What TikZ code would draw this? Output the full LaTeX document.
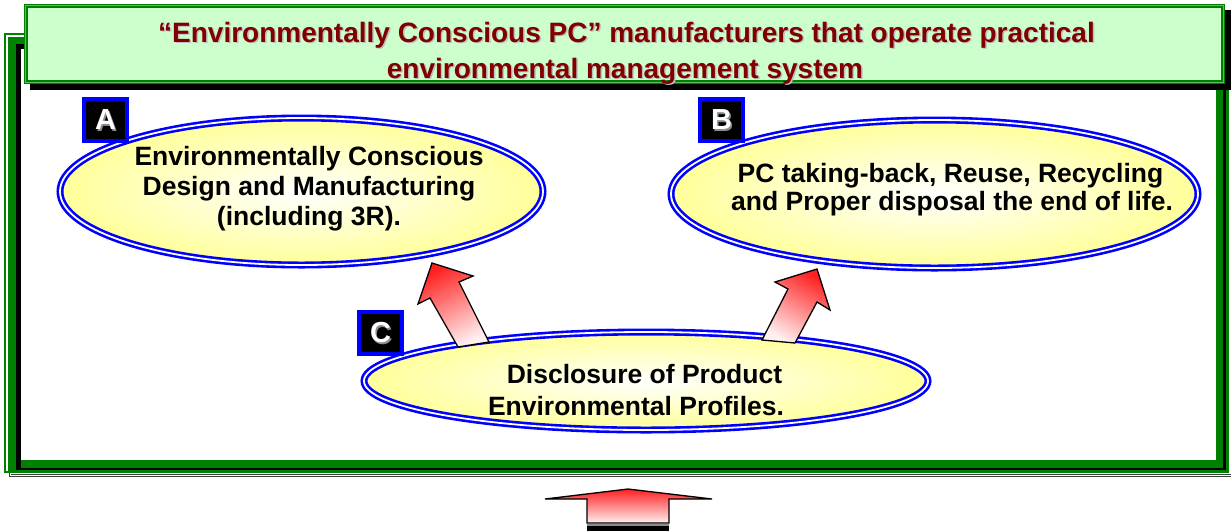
\documentclass[tikz,border=0pt]{standalone}
\usepackage{fontspec}
\setmainfont{Liberation Sans}
\usetikzlibrary{shapes.geometric}
\definecolor{frameg}{HTML}{008000}
\definecolor{framegl}{HTML}{5DBB5D}
\definecolor{titlefill}{HTML}{CCFFCC}
\definecolor{titletext}{HTML}{800000}
\definecolor{ellblue}{HTML}{0000FF}
\definecolor{ellyellow}{HTML}{FFFF99}
\definecolor{arrred}{HTML}{FF2020}
\definecolor{arrpale}{HTML}{FFF0F0}
\begin{document}
\begin{tikzpicture}[x=1pt,y=-1pt,
  ell/.style={ellipse, draw=ellblue, double=white, line width=2.6pt, double distance=1.8pt,
    inner sep=0pt, inner color=white, outer color=ellyellow},
  tag/.style={draw=ellblue, line width=4pt, fill=black, minimum width=43pt,
    minimum height=42pt, inner sep=0pt},
  tagtext/.style={font=\fontsize{29}{30}\selectfont\bfseries, inner sep=0pt},
  body/.style={anchor=base, font=\fontsize{26.5}{30}\selectfont\bfseries, inner sep=0pt},
  ttl/.style={anchor=base, font=\fontsize{28}{32}\selectfont\bfseries, inner sep=0pt},
  titlebox/.style={draw=frameg, double=framegl, line width=1.2pt, double distance=1.2pt,
    fill=titlefill, inner sep=0pt},
  blockarrow/.style={draw=black, line width=1.3pt, line join=miter, top color=arrred, bottom color=arrpale}]
\useasboundingbox (0,0) rectangle (1231,531);
% shadow line below the frame
\draw[black!75, double=white, line width=0.9pt, double distance=1pt] (10,471) -- (10,475.5) -- (1231,475.5);
% frame
\draw[frameg, line width=1.5pt] (5,34) rectangle (1228,472);
\fill[white] (6,35) rectangle (1227,471);
\fill[frameg] (8,37) rectangle (1229,473);
\fill[black] (16,44) rectangle (1226,470);
\fill[frameg] (21,49) rectangle (1223,468);
\fill[white] (21,49) rectangle (1216,460);
% title
\fill[black] (30,10) rectangle (1231,90);
\node[titlebox, minimum width=1197.4pt, minimum height=76.4pt] (title) at (624.5,44) {};
\node[ttl, text=black!25] (t1s) at (628,43.5) {“Environmentally Conscious PC” manufacturers that operate practical};
\node[ttl, text=black!25] (t2s) at (626.5,79.5) {environmental management system};
\node[ttl, text=titletext] (t1) at (626.5,42) {“Environmentally Conscious PC” manufacturers that operate practical};
\node[ttl, text=titletext] (t2) at (625,78) {environmental management system};
% ellipses
\node[ell, minimum width=483pt, minimum height=147pt] (ea) at (301.5,191.5) {};
\node[ell, minimum width=527pt, minimum height=148pt] (eb) at (934.5,194) {};
\node[ell, minimum width=564pt, minimum height=98pt] (ec) at (646,381) {};
% texts
\node[body] (a1) at (309,165) {Environmentally Conscious};
\node[body] (a2) at (309,195) {Design and Manufacturing};
\node[body] (a3) at (309,225) {(including 3R).};
\node[body] (b1) at (950.5,182) {PC taking-back, Reuse, Recycling};
\node[body] (b2) at (952,210) {and Proper disposal the end of life.};
\node[body] (c1) at (644.5,383) {Disclosure of Product};
\node[body] (c2) at (636,415) {Environmental Profiles.};
% arrows
\draw[blockarrow, shading angle=26.6] (458,347) -- (430,298) -- (418,304) -- (432,263) -- (473,276) -- (459,282) -- (489,342) -- cycle;
\draw[blockarrow, shading angle=-28.4] (762,340) -- (788,289) -- (775,282) -- (817,269) -- (830,310) -- (817,302) -- (795,343) -- cycle;
\draw[blockarrow] (587,523) -- (587,499) -- (545,499) -- (628,489) -- (712,499) -- (669,499) -- (669,523) -- cycle;
\fill[black!45] (587,524) rectangle (669,526);
\fill[black] (587,526) rectangle (669,531);
% tags
\node[tag] (ta) at (105.5,120) {};
\node[tag] (tb) at (721.5,120) {};
\node[tag] (tc) at (380.5,333) {};
\node[tagtext, text=black!45] at ([shift={(1.5,1.5)}]ta.center) {A};
\node[tagtext, text=white] (la) at (ta.center) {A};
\node[tagtext, text=black!45] at ([shift={(1.5,1.5)}]tb.center) {B};
\node[tagtext, text=white] (lb) at (tb.center) {B};
\node[tagtext, text=black!45] at ([shift={(1.5,1.5)}]tc.center) {C};
\node[tagtext, text=white] (lc) at (tc.center) {C};
\end{tikzpicture}
\end{document}
